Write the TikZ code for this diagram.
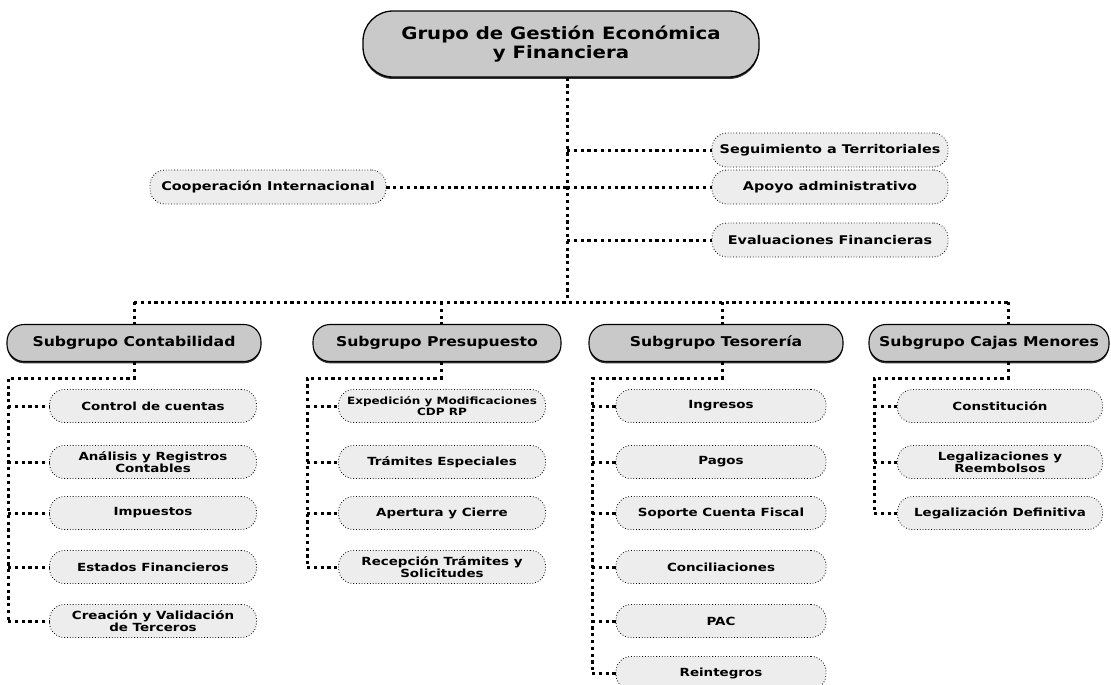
\documentclass[tikz,border=0pt]{standalone}
\usepackage{fontspec}
\setmainfont{DejaVu Sans}
\newfontfamily\wideA{DejaVu Sans}[FakeStretch=1.16]
\newfontfamily\wideB{DejaVu Sans}[FakeStretch=1.2]
\usetikzlibrary{shadows}
\begin{document}
\begin{tikzpicture}[x=1pt,y=-1pt,
  conn/.style={line width=3pt, dash pattern=on 3.2pt off 3.6pt},
  titlebox/.style={draw, line width=1.3pt, fill=gray!42, rounded corners=30pt,
    minimum width=396pt, minimum height=66pt, align=center,
    font=\wideA\bfseries\fontsize{17}{19}\selectfont,
    drop shadow={shadow xshift=0pt, shadow yshift=-2pt, fill=black, opacity=0.8}},
  headbox/.style={draw, line width=1.1pt, fill=gray!42, rounded corners=17pt,
    minimum height=37pt, align=center,
    font=\wideA\bfseries\fontsize{13.5}{14}\selectfont,
    drop shadow={shadow xshift=0pt, shadow yshift=-1.8pt, fill=black, opacity=0.8}},
  itembox/.style={draw, dotted, line width=0.8pt, fill=gray!14, rounded corners=15pt,
    minimum width=207pt, minimum height=33pt, align=center,
    font=\wideB\bfseries\fontsize{11.2}{12}\selectfont},
  sidebox/.style={itembox, minimum width=236pt, minimum height=34pt,
    font=\wideB\bfseries\fontsize{12}{13}\selectfont}
]
\useasboundingbox (0,0) rectangle (1111,685);

% title
\node[titlebox] (title) at (561,44) {Grupo de Gestión Económica\\y Financiera};

% trunk
\coordinate (j1) at (567,302);

% side boxes
\node[sidebox] (seg) at (830,150) {Seguimiento a Territoriales};
\node[sidebox] (apo) at (830,187) {Apoyo administrativo};
\node[sidebox] (eva) at (830,240) {Evaluaciones Financieras};
\node[sidebox] (coop) at (268,187) {Cooperación Internacional};

% headers
\node[headbox, minimum width=254pt] (hC) at (134,343) {Subgrupo Contabilidad};
\node[headbox, minimum width=248pt] (hP) at (437,343) {Subgrupo Presupuesto};
\node[headbox, minimum width=254pt] (hT) at (716,343) {Subgrupo Tesorería};
\node[headbox, minimum width=240pt] (hM) at (989,343) {Subgrupo Cajas Menores};

% bus coordinates
\coordinate (c1) at (134,302);
\coordinate (c2) at (441,302);
\coordinate (c3) at (722,302);
\coordinate (c4) at (1008,302);

% items Contabilidad
\node[itembox] (iC1) at (153,406) {Control de cuentas};
\node[itembox] (iC2) at (153,462) {Análisis y Registros\\Contables};
\node[itembox] (iC3) at (153,513) {Impuestos};
\node[itembox] (iC4) at (153,567) {Estados Financieros};
\node[itembox] (iC5) at (153,621) {Creación y Validación\\de Terceros};

% items Presupuesto
\node[itembox, font=\wideB\bfseries\fontsize{10}{11.5}\selectfont] (iP1) at (442,406) {Expedición y Modificaciones\\CDP RP};
\node[itembox] (iP2) at (442,462) {Trámites Especiales};
\node[itembox] (iP3) at (442,513) {Apertura y Cierre};
\node[itembox] (iP4) at (442,567) {Recepción Trámites y\\Solicitudes};

% items Tesoreria
\node[itembox, minimum width=210pt] (iT1) at (721,406) {Ingresos};
\node[itembox, minimum width=210pt] (iT2) at (721,462) {Pagos};
\node[itembox, minimum width=210pt] (iT3) at (721,513) {Soporte Cuenta Fiscal};
\node[itembox, minimum width=210pt] (iT4) at (721,567) {Conciliaciones};
\node[itembox, minimum width=210pt] (iT5) at (721,621) {PAC};
\node[itembox, minimum width=210pt] (iT6) at (721,673) {Reintegros};

% items Cajas Menores
\node[itembox, minimum width=205pt] (iM1) at (1000,406) {Constitución};
\node[itembox, minimum width=205pt] (iM2) at (1000,462) {Legalizaciones y\\Reembolsos};
\node[itembox, minimum width=205pt] (iM3) at (1000,513) {Legalización Definitiva};

% connectors top
\draw[conn] (title.south -| j1) -- (j1);
\draw[conn] (seg.west -| j1) -- (seg.west);
\draw[conn] (apo.west -| j1) -- (apo.west);
\draw[conn] (eva.west -| j1) -- (eva.west);
\draw[conn] (coop.east) -- (coop.east -| j1);

% bus
\draw[conn] (c1) -- (c4);
\draw[conn] (c1) -- (hC.north -| c1);
\draw[conn] (c2) -- (hP.north -| c2);
\draw[conn] (c3) -- (hT.north -| c3);
\draw[conn] (c4) -- (hM.north -| c4);

% sub connectors
\coordinate (kC) at (134,378); \coordinate (rC) at (8,378);
\coordinate (kP) at (441,378); \coordinate (rP) at (307,378);
\coordinate (kT) at (722,378); \coordinate (rT) at (592,378);
\coordinate (kM) at (1008,378); \coordinate (rM) at (874,378);

\draw[conn] (hC.south -| kC) -- (kC) -- (rC) -- (rC |- iC5.west);
\foreach \i in {1,...,5} {\draw[conn] (rC |- iC\i.west) -- (iC\i.west);}
\draw[conn] (hP.south -| kP) -- (kP) -- (rP) -- (rP |- iP4.west);
\foreach \i in {1,...,4} {\draw[conn] (rP |- iP\i.west) -- (iP\i.west);}
\draw[conn] (hT.south -| kT) -- (kT) -- (rT) -- (rT |- iT6.west);
\foreach \i in {1,...,6} {\draw[conn] (rT |- iT\i.west) -- (iT\i.west);}
\draw[conn] (hM.south -| kM) -- (kM) -- (rM) -- (rM |- iM3.west);
\foreach \i in {1,...,3} {\draw[conn] (rM |- iM\i.west) -- (iM\i.west);}
\end{tikzpicture}
\end{document}
